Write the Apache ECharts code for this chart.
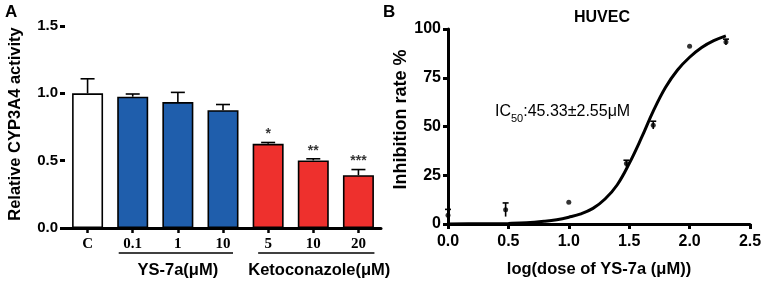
<!DOCTYPE html>
<html>
<head>
<meta charset="utf-8">
<script src="https://cdn.jsdelivr.net/npm/echarts@6/dist/echarts.min.js"></script>
<style>
  html, body { margin: 0; padding: 0; background: #fff; }
  #main { width: 765px; height: 283px; }
</style>
</head>
<body>
<div id="main"></div>
<script>
// panel A - CYP3A4 activity
const groupsA = ['C', '0.1', '1', '10', '5', '10', '20']
const activity = [1.0, 0.975, 0.935, 0.875, 0.625, 0.502, 0.392]
const activityErr = [0.108, 0.02, 0.072, 0.042, 0.01, 0.012, 0.042]
const stars = ['', '', '', '', '*', '**', '***']
const barColors = ['#ffffff', '#1f5eac', '#1f5eac', '#1f5eac', '#ee302d', '#ee302d', '#ee302d']

// panel B - dose response, HUVEC
const logDose = [0.0, 0.477, 1.0, 1.477, 1.699, 2.0, 2.301]
const inhibition = [4.5, 7.3, 11.2, 31, 50.7, 91.2, 93.3]
const inhibitionErr = [3, 3.5, 0, 1.7, 2, 0, 1.5]
// fitted curve
const fitX = [0.0, 0.25, 0.5, 0.65, 0.8, 0.9, 1.0, 1.1, 1.2, 1.3, 1.4, 1.5, 1.6, 1.7, 1.8, 1.9, 2.0, 2.1, 2.2, 2.3]
const fitY = [0.05, 0.1, 0.3, 0.6, 1.4, 2.2, 3.5, 5.2, 8, 12.8, 20, 31, 44, 58, 70, 79, 85.5, 90.5, 94, 96.5]

const font = 'Liberation Sans, Arial, sans-serif'

let myChart = echarts.init(document.getElementById('main'))

function axisStyle() {
  return {
    axisLine: { lineStyle: { color: '#000', width: 3 } },
    axisTick: { show: true, inside: false, length: 5, lineStyle: { color: '#000', width: 3 } },
    splitLine: { show: false }
  }
}

// upper error bar with cap
function errBar(capHalf) {
  return function (params, api) {
    let x = api.value(0)
    let v = api.value(1)
    let e = api.value(2)
    let p0 = api.coord([x, v])
    let p1 = api.coord([x, v + e])
    let children = []
    if (e > 0) {
      children.push({ type: 'line', shape: { x1: p0[0], y1: p0[1], x2: p1[0], y2: p1[1] }, style: { stroke: '#000', lineWidth: 1.6 } })
      children.push({ type: 'line', shape: { x1: p1[0] - capHalf, y1: p1[1], x2: p1[0] + capHalf, y2: p1[1] }, style: { stroke: '#000', lineWidth: 1.6 } })
    }
    return { type: 'group', children: children }
  }
}

let option = {
  animation: false,
  textStyle: { fontFamily: font },
  grid: [
    { left: 65, top: 26, width: 316, height: 202 },
    { left: 448, top: 29, width: 302, height: 200 }
  ],
  xAxis: [
    Object.assign(axisStyle(), {
      gridIndex: 0,
      type: 'category',
      data: groupsA,
      axisTick: { show: true, alignWithLabel: true, length: 5, lineStyle: { color: '#000', width: 2.5 } },
      axisLabel: { color: '#000', fontFamily: 'Liberation Serif, Times New Roman, serif', fontWeight: 'bold', fontSize: 15, margin: 9 }
    }),
    Object.assign(axisStyle(), {
      gridIndex: 1,
      type: 'value',
      min: 0,
      max: 2.5,
      interval: 0.5,
      axisLabel: { color: '#000', fontWeight: 'bold', fontSize: 16, margin: 10, formatter: v => v.toFixed(1) },
      name: 'log(dose of YS-7a (μM))',
      nameLocation: 'middle',
      nameGap: 37,
      nameTextStyle: { color: '#000', fontWeight: 'bold', fontSize: 16.5 }
    })
  ],
  yAxis: [
    Object.assign(axisStyle(), {
      gridIndex: 0,
      type: 'value',
      min: 0,
      max: 1.5,
      interval: 0.5,
      axisLabel: { color: '#000', fontWeight: 'bold', fontSize: 15, margin: 7, formatter: v => v.toFixed(1) },
      name: 'Relative CYP3A4 activity',
      nameLocation: 'middle',
      nameGap: 41,
      nameTextStyle: { color: '#000', fontWeight: 'bold', fontSize: 16.5, padding: [0, 0, 0, 6] }
    }),
    Object.assign(axisStyle(), {
      gridIndex: 1,
      type: 'value',
      min: 0,
      max: 100,
      interval: 25,
      axisLabel: { color: '#000', fontWeight: 'bold', fontSize: 16, margin: 7 },
      name: 'Inhibition rate %',
      nameLocation: 'middle',
      nameGap: 37,
      nameTextStyle: { color: '#000', fontWeight: 'bold', fontSize: 18, padding: [0, 0, 0, 14] }
    })
  ],
  series: [
    {
      type: 'bar',
      xAxisIndex: 0,
      yAxisIndex: 0,
      barWidth: 31,
      data: activity.map((v, i) => ({
        value: v,
        itemStyle: { color: barColors[i], borderColor: '#000', borderWidth: 1.6 }
      })),
      z: 2
    },
    {
      type: 'custom',
      xAxisIndex: 0,
      yAxisIndex: 0,
      data: activity.map((v, i) => [i, v, activityErr[i]]),
      renderItem: errBar(7),
      z: 3
    },
    {
      // significance marks
      type: 'scatter',
      xAxisIndex: 0,
      yAxisIndex: 0,
      symbolSize: 0,
      data: activity.map((v, i) => [i, v + activityErr[i]]),
      label: {
        show: true,
        position: 'top',
        distance: 1,
        color: '#000',
        fontWeight: 'bold',
        fontSize: 14,
        formatter: p => stars[p.dataIndex]
      },
      z: 4
    },
    {
      type: 'line',
      xAxisIndex: 1,
      yAxisIndex: 1,
      data: fitX.map((x, i) => [x, fitY[i]]),
      smooth: 0.4,
      showSymbol: false,
      lineStyle: { color: '#000', width: 3 },
      z: 3
    },
    {
      type: 'scatter',
      xAxisIndex: 1,
      yAxisIndex: 1,
      symbolSize: 5,
      itemStyle: { color: '#000' },
      data: logDose.map((x, i) => [x, inhibition[i]]),
      z: 4
    },
    {
      type: 'custom',
      xAxisIndex: 1,
      yAxisIndex: 1,
      data: logDose.map((x, i) => [x, inhibition[i] - inhibitionErr[i], 2 * inhibitionErr[i]]),
      renderItem: errBar(3),
      z: 4
    }
  ],
  graphic: [
    { type: 'text', left: 5, top: 4, style: { text: 'A', font: 'bold 17px ' + font, fill: '#000' } },
    { type: 'text', left: 383, top: 4, style: { text: 'B', font: 'bold 17px ' + font, fill: '#000' } },
    { type: 'text', x: 602, y: 18, style: { text: 'HUVEC', font: 'bold 16px ' + font, fill: '#000', align: 'center', verticalAlign: 'middle' } },
    {
      type: 'text', x: 495, y: 110,
      style: {
        text: '{a|IC}{s|50}{a|:45.33±2.55μM}',
        fill: '#000',
        verticalAlign: 'middle',
        rich: {
          a: { fontSize: 16, fontFamily: font, fill: '#000', lineHeight: 20, verticalAlign: 'bottom' },
          s: { fontSize: 11, fontFamily: font, fill: '#000', lineHeight: 20, verticalAlign: 'bottom', padding: [0, 0, -4, 0] }
        }
      }
    }
  ]
}

myChart.setOption(option)

// group labels under the categories of panel A
function catX(i) {
  return myChart.convertToPixel({ xAxisIndex: 0 }, i)
}
let lineY = 253
let extra = [
  { type: 'line', shape: { x1: catX(1) - 14, y1: lineY, x2: catX(3) + 10, y2: lineY }, style: { stroke: '#000', lineWidth: 1.5 } },
  { type: 'line', shape: { x1: catX(4) - 10, y1: lineY, x2: catX(6) + 16, y2: lineY }, style: { stroke: '#000', lineWidth: 1.5 } },
  { type: 'text', x: catX(2), y: 270, style: { text: 'YS-7a(μM)', font: 'bold 16.5px ' + font, fill: '#000', align: 'center', verticalAlign: 'middle' } },
  { type: 'text', x: catX(5) + 6, y: 270, style: { text: 'Ketoconazole(μM)', font: 'bold 16.5px ' + font, fill: '#000', align: 'center', verticalAlign: 'middle' } }
]
myChart.setOption({ graphic: option.graphic.concat(extra) })
</script>
</body>
</html>
